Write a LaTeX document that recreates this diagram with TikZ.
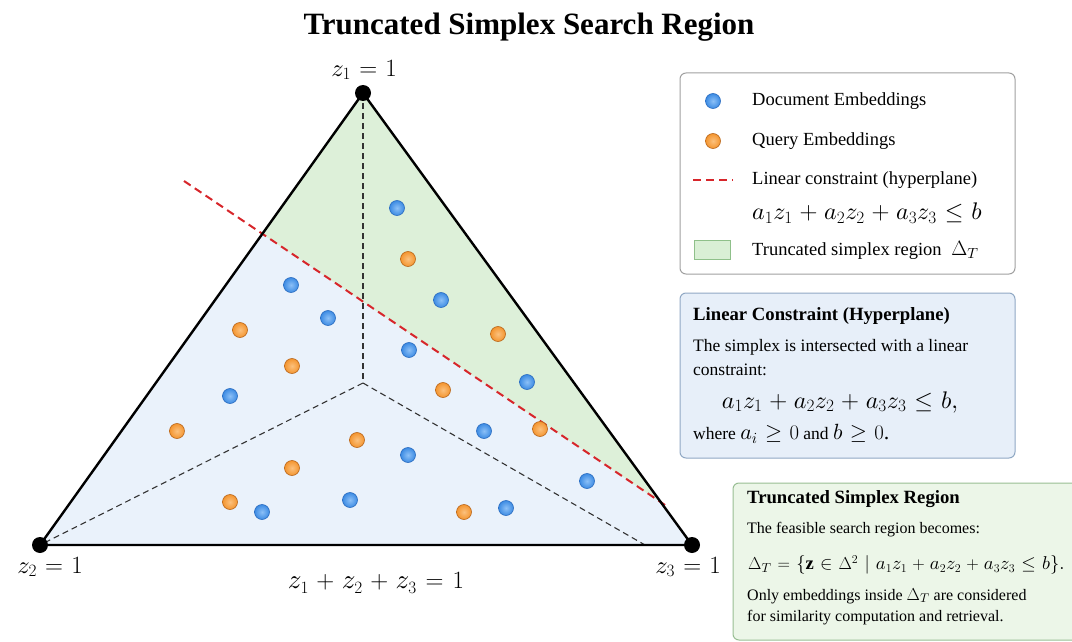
\documentclass[tikz,border=0pt]{standalone}
\usepackage{amsmath}
\usepackage{fontspec}
\setmainfont{Liberation Serif}
\DeclareFontFamily{OML}{cmmx}{\skewchar\font127}
\DeclareFontShape{OML}{cmmx}{m}{it}{<-> cmmi10}{}
\DeclareSymbolFont{letters}{OML}{cmmx}{m}{it}
\DeclareFontFamily{OMS}{cmsx}{\skewchar\font48}
\DeclareFontShape{OMS}{cmsx}{m}{n}{<-> cmsy10}{}
\DeclareSymbolFont{symbols}{OMS}{cmsx}{m}{n}
\definecolor{bluefill}{HTML}{EAF2FB}
\definecolor{greenfill}{HTML}{DDF0D9}
\definecolor{redline}{HTML}{D7262B}
\definecolor{docblue}{HTML}{3C8BE3}
\definecolor{docblueL}{HTML}{8CC0F7}
\definecolor{docblueD}{HTML}{2A6CC0}
\definecolor{qorange}{HTML}{F4952F}
\definecolor{qorangeL}{HTML}{FBC17E}
\definecolor{qorangeD}{HTML}{B9661A}
\definecolor{boxagray}{HTML}{A0A0A0}
\definecolor{boxbfill}{HTML}{E7EFF9}
\definecolor{boxbborder}{HTML}{90A8C4}
\definecolor{boxcfill}{HTML}{ECF6E8}
\definecolor{boxcborder}{HTML}{98BE93}
\definecolor{legendgreen}{HTML}{D9EFD5}
\definecolor{legendgreenD}{HTML}{8FC08A}
\newcommand{\fs}[1]{\fontsize{#1}{#1}\selectfont}
\begin{document}
\medmuskip=5mu plus 2mu minus 2mu
\thickmuskip=6mu plus 3mu
\begin{tikzpicture}[x=1pt,y=-1pt,
  edge/.style={line width=2.4pt,line join=round},
  innerdash/.style={line width=1.1pt,dash pattern=on 6pt off 4pt,black!80},
  reddash/.style={line width=2pt,dash pattern=on 8pt off 5pt,redline},
  vdot/.style={circle,fill=black,inner sep=0pt,minimum size=16pt},
  docdot/.style={circle,inner sep=0pt,minimum size=15pt,draw=docblueD,line width=0.6pt,shading=radial,inner color=docblueL,outer color=docblue},
  qdot/.style={circle,inner sep=0pt,minimum size=15pt,draw=qorangeD,line width=0.6pt,shading=radial,inner color=qorangeL,outer color=qorange},
  lbl/.style={font=\fs{24.5}},
  ltxt/.style={font=\fs{18.5},anchor=west,inner sep=0pt},
  btxt/.style={font=\fs{17.5},anchor=west,inner sep=0pt},
  ctxt/.style={font=\fs{16},anchor=west,inner sep=0pt},
  hd/.style={font=\bfseries\fs{18.7},anchor=west,inner sep=0pt},
  mth/.style={font=\fs{24},inner sep=0pt}
]
\useasboundingbox (0,0) rectangle (1072,642);

% title
\node[font=\bfseries\fs{31}] (title) at (529,27) {Truncated Simplex Search Region};

% geometry
\coordinate (T) at (363,93);
\coordinate (L) at (40,545);
\coordinate (R) at (692,545);
\coordinate (C) at (363,383);
\coordinate (B) at (645,545);
\coordinate (Pl) at (262.4,234);
\coordinate (Pr) at (661,502.5);
\coordinate (Rs) at (184,181);
\coordinate (Re) at (668,507);

\fill[bluefill] (T)--(L)--(R)--cycle;
\fill[greenfill] (T)--(Pl)--(Pr)--cycle;
\draw[innerdash] (T)--(C);
\draw[innerdash] (C)--(L);
\draw[innerdash] (C)--(B);
\draw[reddash] (Rs)--(Re);
\draw[edge] (T)--(L)--(R)--cycle;

\node[vdot] (vT) at (T) {};
\node[vdot] (vL) at (L) {};
\node[vdot] (vR) at (R) {};

% embeddings
\foreach \n/\x/\y in {1/397/208,2/441/300,3/291/285,4/328/318,5/409/350,6/527/382,7/230/396,8/484/431,9/408/455,10/587/481,11/350/500,12/262/512,13/506/508}
  \node[docdot] (d\n) at (\x,\y) {};
\foreach \n/\x/\y in {1/408/259,2/498/334,3/240/330,4/292/366,5/443/390,6/540/429,7/177/431,8/357/440,9/292/468,10/230/502,11/464/512}
  \node[qdot] (q\n) at (\x,\y) {};

% vertex labels
\node[lbl] (lT) at (364,70) {$z_1 = 1$};
\node[lbl] (lL) at (50,567) {$z_2 = 1$};
\node[lbl] (lR) at (688,567) {$z_3 = 1$};
\node[lbl,font=\fs{27}] (lS) at (376,583) {$z_1 + z_2 + z_3 = 1$};

% legend box
\draw[boxagray,line width=1pt,rounded corners=6pt,fill=white] (680,73) rectangle (1015,274);
\node[docdot] (ld) at (713,101) {};
\node[ltxt] (ldt) at (752,101) {Document Embeddings};
\node[qdot] (lq) at (713,141) {};
\node[ltxt] (lqt) at (752,141) {Query Embeddings};
\coordinate (lr1) at (693,180);
\coordinate (lr2) at (733,180);
\draw[reddash] (lr1)--(lr2);
\node[ltxt] (lrt) at (752,180) {Linear constraint (hyperplane)};
\node[mth,anchor=west] (lrm) at (752,213) {$a_1z_1 + a_2z_2 + a_3z_3 \le b$};
\draw[legendgreenD,fill=legendgreen,line width=0.8pt] (694,240) rectangle (730,259);
\node[ltxt] (lgt) at (752,250) {Truncated simplex region\; \fs{21}$\Delta_T$};

% linear constraint box
\draw[boxbborder,line width=1pt,rounded corners=6pt,fill=boxbfill] (680,293) rectangle (1015,458);
\node[hd] (b2h) at (693,316) {Linear Constraint (Hyperplane)};
\node[btxt] (b2a) at (693,347) {The simplex is intersected with a linear};
\node[btxt] (b2b) at (693,370) {constraint:};
\node[mth] (b2m) at (840,402) {$a_1z_1 + a_2z_2 + a_3z_3 \le b,$};
\node[btxt] (b2c) at (693,434) {where \fs{22}$a_i \ge 0$\fs{17.5}{} and \fs{22}$b \ge 0$.};

% truncated region box
\draw[boxcborder,line width=1pt,rounded corners=6pt,fill=boxcfill] (733,483) rectangle (1090,640);
\node[hd] (b3h) at (747,499) {Truncated Simplex Region};
\node[ctxt] (b3a) at (747,530) {The feasible search region becomes:};
\node[mth,anchor=west,font=\fs{18.6}] (b3m) at (748,565) {$\Delta_T = \{\mathbf{z} \in \Delta^2 \mid a_1z_1 + a_2z_2 + a_3z_3 \le b\}.$};
\node[ctxt] (b3b) at (747,596) {Only embeddings inside \fs{18}$\Delta_T$\fs{16}{} are considered};
\node[ctxt] (b3c) at (747,618) {for similarity computation and retrieval.};
\end{tikzpicture}
\end{document}
